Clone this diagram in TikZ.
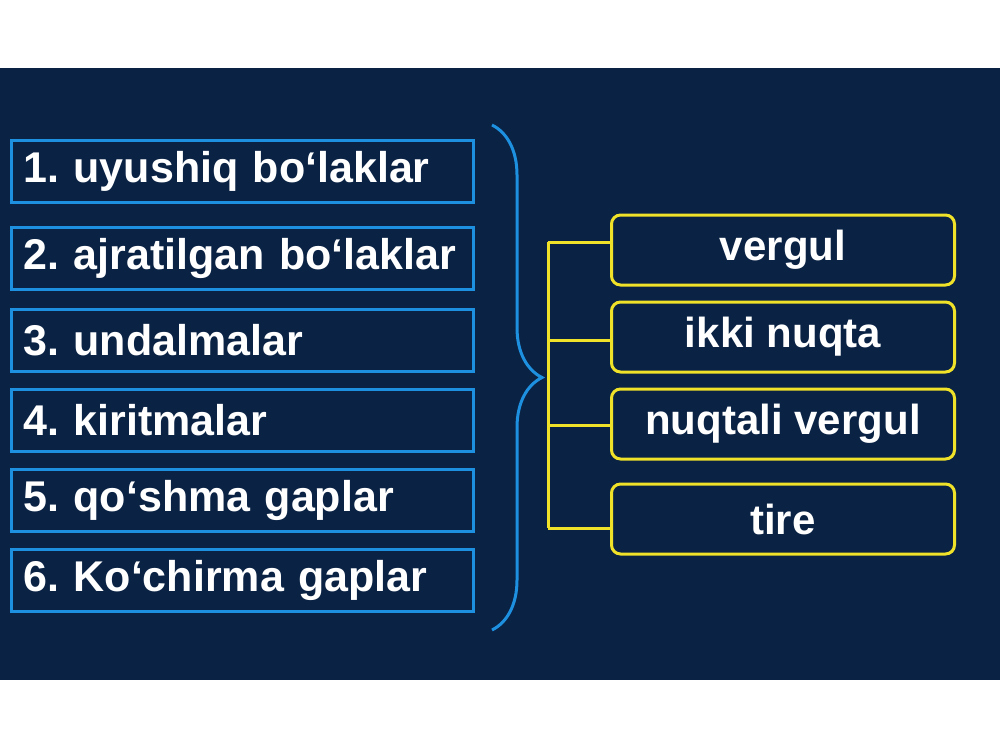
\documentclass[tikz,border=0pt]{standalone}
\usepackage{fontspec}
\setmainfont{Liberation Sans}
\frenchspacing
\usetikzlibrary{decorations.pathreplacing}
\definecolor{navy}{RGB}{10,34,68}
\definecolor{lblue}{RGB}{30,144,224}
\definecolor{ylw}{RGB}{240,226,40}
\tikzset{
 lbox/.style={draw=lblue,line width=3pt,minimum width=462pt,minimum height=62pt,anchor=west,text=white,font=\fontsize{43}{46}\selectfont\bfseries,inner sep=0pt,text width=438pt,align=left},
 rbox/.style={draw=ylw,line width=3pt,rounded corners=9pt,minimum width=343pt,minimum height=70pt,text=white,font=\fontsize{42}{46}\selectfont\bfseries,inner sep=0pt},
 yl/.style={draw=ylw,line width=3pt}
}
\begin{document}
\begin{tikzpicture}[x=1pt,y=-1pt]
\useasboundingbox (0,0) rectangle (1000,750);
\fill[white] (0,0) rectangle (1000,750);
\fill[navy] (0,68) rectangle (1000,680);
\node[lbox] (l1) at (10,171) {1. uyushiq bo‘laklar};
\node[lbox] (l2) at (10,258) {2. ajratilgan bo‘laklar};
\node[lbox] (l3) at (10,340) {3. undalmalar};
\node[lbox] (l4) at (10,420) {4. kiritmalar};
\node[lbox] (l5) at (10,500) {5. qo‘shma gaplar};
\node[lbox] (l6) at (10,580) {6. Ko‘chirma gaplar};
\node[rbox] (r1) at (783,250) {vergul};
\node[rbox] (r2) at (783,337) {ikki nuqta};
\node[rbox] (r3) at (783,424) {nuqtali vergul};
\node[rbox] (r4) at (783,519) {tire};
\coordinate (bt) at (492,125);
\coordinate (bb) at (492,630);
\draw[lblue,line width=3pt,decoration={brace,amplitude=50pt,aspect=0.5},decorate] (bt) -- (bb);
\coordinate (vt) at (548,242);
\coordinate (vb) at (548,528);
\draw[yl] (vt) -- (vb);
\draw[yl] (vt) -- (r1.west|-vt);
\draw[yl] (548,340) -- (r2.west|-{(0,340)});
\draw[yl] (548,425) -- (r3.west|-{(0,425)});
\draw[yl] (vb) -- (r4.west|-vb);
\end{tikzpicture}
\end{document}
